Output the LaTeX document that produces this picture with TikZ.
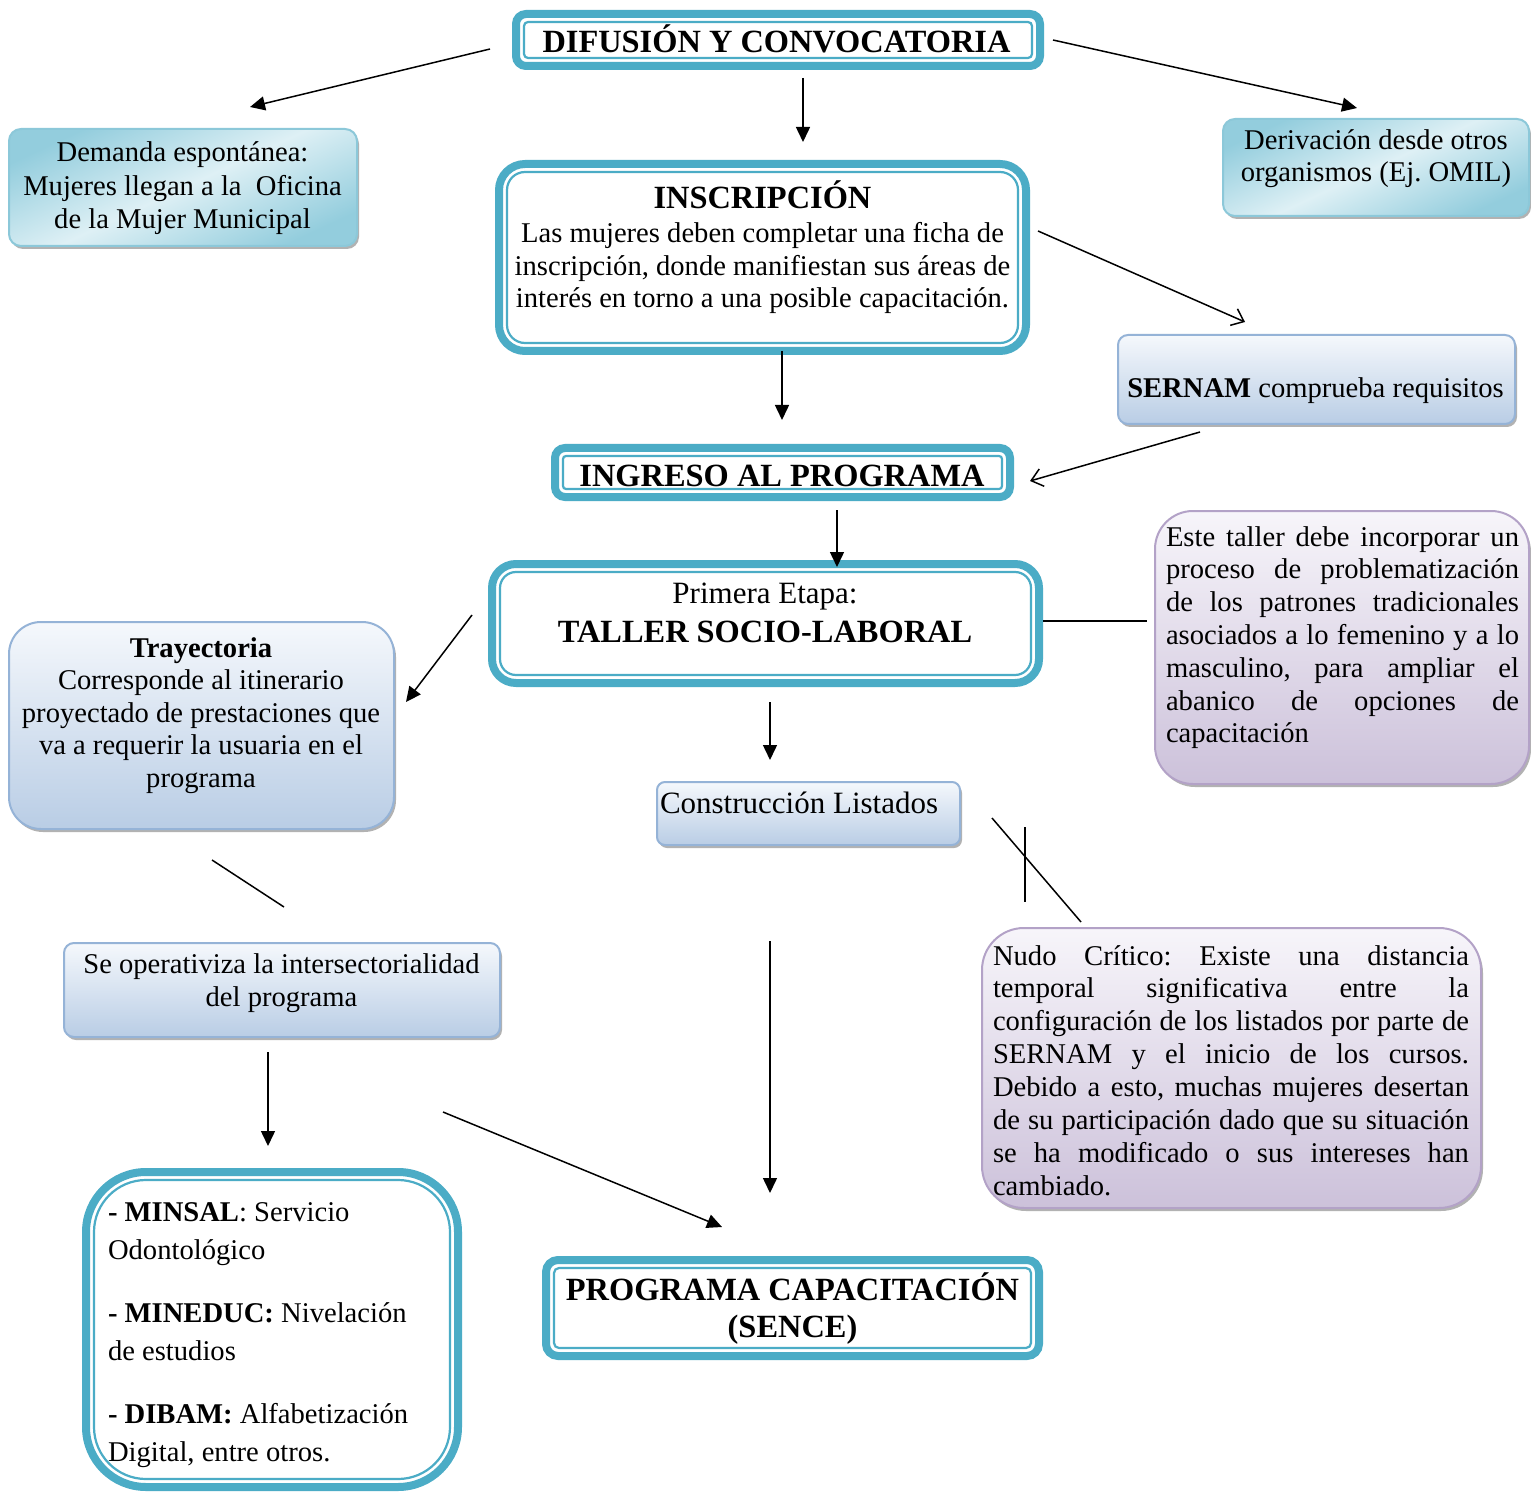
\documentclass[tikz,border=0pt]{standalone}
\usepackage{fontspec}
\setmainfont{Liberation Serif}
\usetikzlibrary{arrows.meta,shadows,calc}
\definecolor{tealc}{HTML}{4BACC6}
\definecolor{tealD}{HTML}{93CDDD}
\definecolor{tealL}{HTML}{DEF0F5}
\definecolor{tealB}{HTML}{8CC8D9}
\definecolor{blueT}{HTML}{F5F8FC}
\definecolor{blueB}{HTML}{B9CDE5}
\definecolor{blueE}{HTML}{95B3D7}
\definecolor{purT}{HTML}{F7F5FA}
\definecolor{purB}{HTML}{CCC1DA}
\definecolor{purE}{HTML}{B3A2C7}
\frenchspacing
\newcommand\cblock[2]{\vtop{\hsize=#1\parindent=0pt\centering #2\par}}
\newcommand\lblock[2]{\vtop{\hsize=#1\parindent=0pt\raggedright #2\par}}
\newcommand\jl[1]{\makebox[\hsize][s]{#1}}
\newcommand\innerframe[2]{\draw[tealc,line width=1.1pt,rounded corners=#2] ($(#1.north west)+(4pt,-4pt)$) rectangle ($(#1.south east)+(-4pt,4pt)$);}
\begin{document}
\begin{tikzpicture}[x=0.5pt,y=-0.5pt,
  every node/.style={inner sep=0pt,outer sep=0pt},
  tealbox/.style={draw=tealc,line width=4pt,fill=white},
  shad/.style={drop shadow={shadow xshift=1pt,shadow yshift=-1.5pt,fill=black!55,opacity=0.55}},
  softteal/.style={shad,draw=tealB,line width=1pt,top color=tealD,bottom color=tealD,middle color=tealL,shading angle=25},
  softblue/.style={shad,draw=blueE,line width=1pt,top color=blueT,bottom color=blueB},
  softpurple/.style={shad,draw=purE,line width=1pt,top color=purT,bottom color=purB},
  txt/.style={font=\fontsize{14.3}{16.4}\selectfont},
  big/.style={font=\fontsize{15.5}{17}\selectfont},
  head/.style={font=\fontsize{16.2}{18.5}\selectfont\bfseries},
  conn/.style={line width=0.75pt},
  arr/.style={conn,-{Triangle[length=7.5pt,width=7pt]}},
  oarr/.style={conn,-{Straight Barb[length=5.5pt,width=9pt]}}]
\fill[white] (0,0) rectangle (1531,1492);
\useasboundingbox (0,0) rectangle (1531,1492);

% ---- main teal boxes
\node[tealbox,rounded corners=5pt,minimum width=262pt,minimum height=26pt] (dif) at (778,40) {};
\innerframe{dif}{2pt}
\node[head,anchor=base] (dift) at (776.5,53) {DIFUSIÓN Y CONVOCATORIA};

\node[tealbox,rounded corners=13pt,minimum width=263.5pt,minimum height=93.5pt] (insc) at (762.5,257.5) {};
\innerframe{insc}{9pt}
\node[txt,anchor=base] (insct) at (762.5,209) {\cblock{262pt}{\fontsize{14.3}{16.25}\selectfont{\bfseries\fontsize{16.2}{16}\selectfont INSCRIPCIÓN}\\[0.75pt]
Las mujeres deben completar una ficha de\\ inscripción, donde manifiestan sus áreas de\\ interés en torno a una posible capacitación.}};

\node[tealbox,rounded corners=5pt,minimum width=227.5pt,minimum height=24.5pt] (ing) at (782.5,472.5) {};
\innerframe{ing}{1.5pt}
\node[head,anchor=base] (ingt) at (782,487) {INGRESO AL PROGRAMA};

\node[tealbox,rounded corners=12pt,minimum width=273.5pt,minimum height=59.5pt] (tal) at (765.5,623.5) {};
\innerframe{tal}{8pt}
\node[big,anchor=base] (talt) at (765,603) {\cblock{270pt}{\fontsize{15.5}{16.4}\selectfont Primera Etapa:\\[3.1pt]{\bfseries\fontsize{16.2}{16}\selectfont TALLER SOCIO-LABORAL}}};

\node[tealbox,rounded corners=6pt,minimum width=246.5pt,minimum height=48pt] (prog) at (792.5,1308) {};
\innerframe{prog}{2.5pt}
\node[head,anchor=base] (progt) at (792.5,1300) {\cblock{245pt}{PROGRAMA CAPACITACIÓN\\(SENCE)}};

\node[tealbox,rounded corners=30pt,minimum width=186pt,minimum height=157.5pt] (mins) at (272,1329.5) {};
\innerframe{mins}{26pt}
\node[txt,anchor=base west] (minst) at (108,1221) {\lblock{180pt}{\fontsize{14.3}{19}\selectfont\textbf{- MINSAL}: Servicio\\ Odontológico\\[12.5pt]
\textbf{- MINEDUC:} Nivelación\\ de estudios\\[12.5pt]
\textbf{- DIBAM:} Alfabetización\\ Digital, entre otros.}};

% ---- soft boxes
\node[softteal,rounded corners=6pt,minimum width=174pt,minimum height=58.5pt] (dem) at (183,187.5) {};
\node[txt,anchor=base] (demt) at (182.5,162) {\cblock{172pt}{\fontsize{14.3}{16.75}\selectfont Demanda espontánea:\\ Mujeres llegan a la~ Oficina\\ de la Mujer Municipal}};

\node[softteal,rounded corners=6pt,minimum width=153pt,minimum height=48.5pt] (der) at (1376,167.5) {};
\node[txt,anchor=base] (dert) at (1376,150) {\cblock{152pt}{\fontsize{14.3}{16}\selectfont Derivación desde otros\\ organismos (Ej. OMIL)}};

\node[softblue,rounded corners=5pt,minimum width=198.5pt,minimum height=44.5pt] (sern) at (1316.5,379.5) {};
\node[txt,anchor=base] (sernt) at (1315.5,398) {\textbf{SERNAM} comprueba requisitos};

\node[softpurple,rounded corners=19pt,minimum width=187pt,minimum height=136.5pt] (este) at (1342,647.5) {};
\node[txt,anchor=base] (estet) at (1342.5,546) {\lblock{176.5pt}{\jl{Este taller debe incorporar un}\\
\jl{proceso de problematización}\\
\jl{de los patrones tradicionales}\\
\jl{asociados a lo femenino y a lo}\\
\jl{masculino, para ampliar el}\\
\jl{abanico de opciones de}\\
capacitación}};

\node[softblue,rounded corners=16pt,minimum width=192.5pt,minimum height=103.5pt] (tray) at (201.5,725.5) {};
\node[txt,anchor=base] (trayt) at (201,657) {\cblock{190pt}{\fontsize{14.3}{16.25}\selectfont\textbf{Trayectoria}\\ Corresponde al itinerario\\ proyectado de prestaciones que\\ va a requerir la usuaria en el\\ programa}};

\node[softblue,rounded corners=4pt,minimum width=151.5pt,minimum height=31.5pt] (cons) at (808.5,813.5) {};
\node[big,anchor=base west] (const) at (660,813) {Construcción Listados};

\node[softblue,rounded corners=5pt,minimum width=218pt,minimum height=47pt] (seop) at (282,990) {};
\node[txt,anchor=base] (seopt) at (281.5,973) {\cblock{216pt}{\fontsize{14.3}{16.5}\selectfont Se operativiza la intersectorialidad\\ del programa}};

\node[softpurple,rounded corners=21pt,minimum width=249.5pt,minimum height=140pt] (nudo) at (1231.5,1068) {};
\node[txt,anchor=base] (nudot) at (1231,965) {\lblock{238pt}{\fontsize{14.3}{16.45}\selectfont
\jl{Nudo Crítico: Existe una distancia}\\
\jl{temporal significativa entre la}\\
\jl{configuración de los listados por parte de}\\
\jl{SERNAM y el inicio de los cursos.}\\
\jl{Debido a esto, muchas mujeres desertan}\\
\jl{de su participación dado que su situación}\\
\jl{se ha modificado o sus intereses han}\\
cambiado.}};

% ---- connectors
\coordinate (p1) at (803,78);   \coordinate (q1) at (803,142);
\coordinate (p2) at (490,49);   \coordinate (q2) at (250,107);
\coordinate (p3) at (1053,40);  \coordinate (q3) at (1357,108);
\coordinate (p4) at (1038,231); \coordinate (q4) at (1245,322);
\coordinate (p5) at (782,351);  \coordinate (q5) at (782,420);
\coordinate (p6) at (1200,432); \coordinate (q6) at (1030,481);
\coordinate (p7) at (837,510);  \coordinate (q7) at (837,567);
\coordinate (p8) at (1043,621); \coordinate (q8) at (1147,621);
\coordinate (p9) at (472,615);  \coordinate (q9) at (406,702);
\coordinate (p10) at (770,702); \coordinate (q10) at (770,760);
\coordinate (p11) at (212,860); \coordinate (q11) at (284,907);
\coordinate (p12) at (992,818); \coordinate (q12) at (1081,922);
\coordinate (p13) at (1025,827);\coordinate (q13) at (1025,902);
\coordinate (p14) at (770,941); \coordinate (q14) at (770,1193);
\coordinate (p15) at (268,1052);\coordinate (q15) at (268,1146);
\coordinate (p16) at (443,1112);\coordinate (q16) at (722,1227);

\draw[arr] (p1) -- (q1);
\draw[arr] (p2) -- (q2);
\draw[arr] (p3) -- (q3);
\draw[oarr] (p4) -- (q4);
\draw[arr] (p5) -- (q5);
\draw[oarr] (p6) -- (q6);
\draw[arr] (p7) -- (q7);
\draw[conn] (p8) -- (q8);
\draw[arr] (p9) -- (q9);
\draw[arr] (p10) -- (q10);
\draw[conn] (p11) -- (q11);
\draw[conn] (p12) -- (q12);
\draw[conn] (p13) -- (q13);
\draw[arr] (p14) -- (q14);
\draw[arr] (p15) -- (q15);
\draw[arr] (p16) -- (q16);
\end{tikzpicture}
\end{document}
